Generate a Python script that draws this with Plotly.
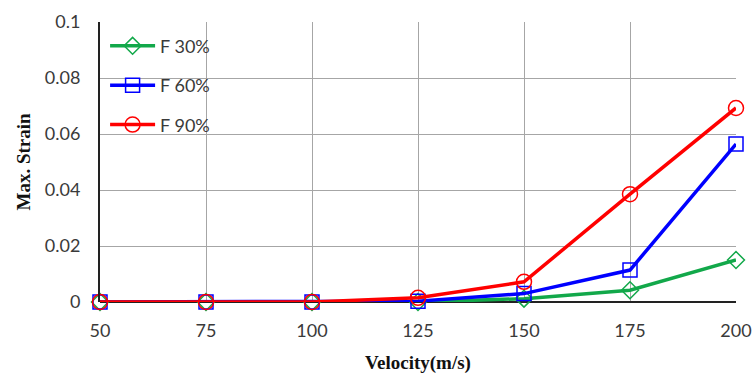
import plotly.graph_objects as go

velocity = [50, 75, 100, 125, 150, 175, 200]
f30 = [0, 0, 0, 0, 0.0012, 0.0042, 0.0150]
f60 = [0, 0, 0, 0.0003, 0.0030, 0.0114, 0.0564]
f90 = [0, 0, 0, 0.0015, 0.0072, 0.0385, 0.0693]

series = [
    ("F 30%", f30, "#12a84a", "diamond-open", 13),
    ("F 60%", f60, "#0000ff", "square-open", 14),
    ("F 90%", f90, "#ff0000", "circle-open", 15),
]

fig = go.Figure()
for i, (name, vals, color, sym, sz) in enumerate(series):
    fig.add_trace(go.Scatter(
        x=velocity, y=vals, name=name, mode="lines+markers",
        line=dict(color=color, width=3.5),
        marker=dict(symbol=sym, size=sz, color=color, line=dict(width=1.5, color=color)),
        cliponaxis=False, legendgroup=f"g{i}",
    ))

tickfont = dict(family="Lato, Open Sans, sans-serif", size=18, color="#3a3a3a")
titlefont = dict(family="Liberation Serif, Times New Roman, serif", size=19, color="#111111")

fig.update_layout(
    width=753, height=376,
    margin=dict(l=100, r=17, t=22, b=74),
    paper_bgcolor="white", plot_bgcolor="white",
    showlegend=True,
    legend=dict(x=0.008, y=0.98, xanchor="left", yanchor="top",
                bgcolor="rgba(0,0,0,0)", font=dict(family="Lato, Open Sans, sans-serif", size=18, color="#3a3a3a"),
                traceorder="grouped", tracegroupgap=13, itemwidth=45),
    xaxis=dict(
        range=[50, 200], tickvals=velocity, ticks="", tickfont=tickfont,
        showgrid=True, gridcolor="#a6a6a6", gridwidth=1,
        showline=False, zeroline=False, automargin=False,
        ticklabelstandoff=16,
        title=dict(text="<b>Velocity(m/s)</b>", font=titlefont, standoff=15),
    ),
    yaxis=dict(
        range=[0, 0.1], dtick=0.02, ticks="", tickfont=tickfont,
        showgrid=True, gridcolor="#a6a6a6", gridwidth=1,
        showline=True, linecolor="#222222", linewidth=2,
        zeroline=True, zerolinecolor="#222222", zerolinewidth=1.5,
        automargin=False,
        ticklabelstandoff=14,
        title=dict(text="<b>Max. Strain</b>", font=titlefont, standoff=9),
    ),
)

fig.write_html("out.html", config={"displayModeBar": False},
               post_script="document.body.style.margin='0px';document.body.style.overflow='hidden';")
